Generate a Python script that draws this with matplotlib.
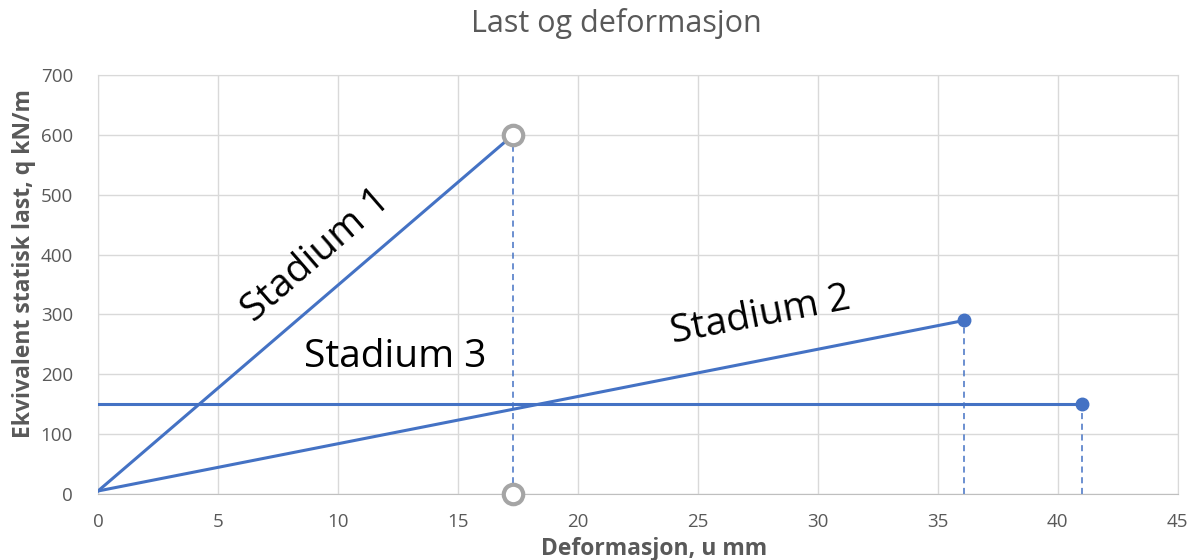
import matplotlib
matplotlib.use("Agg")
import matplotlib.pyplot as plt

# load vs deformation, three stages
s1_x = [0, 17.3]
s1_y = [5, 600]
s2_x = [0, 36.1]
s2_y = [5, 290]
s3_x = [0, 41.0]
s3_y = [150, 150]

x_ticks = [0, 5, 10, 15, 20, 25, 30, 35, 40, 45]
y_ticks = [0, 100, 200, 300, 400, 500, 600, 700]

BLUE = "#4472C4"
GRID = "#D9D9D9"
TXT = "#595959"

plt.rcParams['font.family'] = ['Open Sans', 'DejaVu Sans']

fig = plt.figure(figsize=(11.97, 5.6), dpi=100)
ax = fig.add_axes([0.0819, 0.1179, 0.9021, 0.7481])

ax.plot(s1_x, s1_y, color=BLUE, lw=2.2, zorder=3)
ax.plot(s2_x, s2_y, color=BLUE, lw=2.2, zorder=3)
ax.plot(s3_x, s3_y, color=BLUE, lw=2.2, zorder=3)

# end points
ax.plot(s2_x[-1], s2_y[-1], 'o', color=BLUE, ms=9, zorder=4)
ax.plot(s3_x[-1], s3_y[-1], 'o', color=BLUE, ms=9, zorder=4)

# drop lines down to the x axis
ax.plot([s1_x[-1], s1_x[-1]], [0, s1_y[-1]], color=BLUE, lw=1.1, ls=(0, (4, 3)), zorder=2)
ax.plot([s2_x[-1], s2_x[-1]], [0, s2_y[-1]], color=BLUE, lw=1.1, ls=(0, (4, 3)), zorder=2)
ax.plot([s3_x[-1], s3_x[-1]], [0, s3_y[-1]], color=BLUE, lw=1.1, ls=(0, (4, 3)), zorder=2)

# open markers at top and bottom of stage 1 drop line
ax.plot([s1_x[-1], s1_x[-1]], [s1_y[-1], 0], 'o', mfc='white', mec='#A5A5A5',
        mew=3, ms=14, ls='none', zorder=5, clip_on=False)

ax.set_xlim(0, 45)
ax.set_ylim(0, 700)
ax.set_xticks(x_ticks)
ax.set_yticks(y_ticks)
ax.grid(True, color=GRID, lw=1)
ax.set_axisbelow(True)
for sp in ax.spines.values():
    sp.set_color(GRID)
ax.spines['bottom'].set_color('#BFBFBF')
ax.tick_params(length=0, labelsize=13.5, labelcolor=TXT)
ax.tick_params(axis='y', pad=18)
ax.tick_params(axis='x', pad=14)

ax.set_xlabel("Deformasjon, u mm", fontsize=16.5, fontweight='bold', color=TXT)
ax.set_ylabel("Ekvivalent statisk last, q kN/m", fontsize=16.5, fontweight='bold', color=TXT)
ax.xaxis.set_label_coords(0.515, -0.102)
ax.yaxis.set_label_coords(-0.057, 0.551)
fig.text(0.515, 0.958, "Last og deformasjon", ha='center', va='center', fontsize=22, color=TXT)

ax.text(9.1, 399, "Stadium 1", rotation=41, fontsize=28, ha='center', va='center', color='black')
ax.text(27.6, 297, "Stadium 2", rotation=11, fontsize=28, ha='center', va='center', color='black')
ax.text(12.4, 229, "Stadium 3", rotation=0, fontsize=28, ha='center', va='center', color='black')

fig.savefig("out.png", dpi=100)
